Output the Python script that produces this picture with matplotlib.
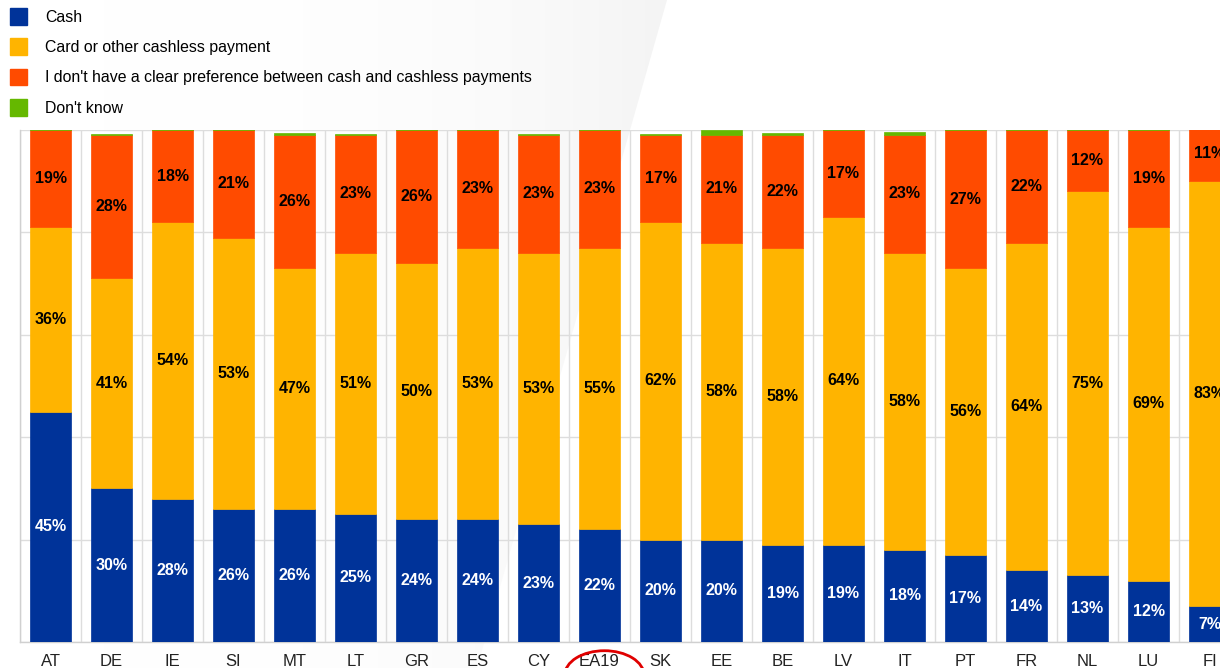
import numpy as np
import matplotlib
matplotlib.use("Agg")
import matplotlib.pyplot as plt
from matplotlib.patches import Patch, Ellipse, Polygon

plt.rcParams['font.family'] = ['Liberation Sans', 'DejaVu Sans']

countries = ["AT", "DE", "IE", "SI", "MT", "LT", "GR", "ES", "CY", "EA19",
             "SK", "EE", "BE", "LV", "IT", "PT", "FR", "NL", "LU", "FI"]
cash = [45, 30, 28, 26, 26, 25, 24, 24, 23, 22, 20, 20, 19, 19, 18, 17, 14, 13, 12, 7]
card = [36, 41, 54, 53, 47, 51, 50, 53, 53, 55, 62, 58, 58, 64, 58, 56, 64, 75, 69, 83]
no_pref = [19, 28, 18, 21, 26, 23, 26, 23, 23, 23, 17, 21, 22, 17, 23, 27, 22, 12, 19, 11]
dont_know = [0.4, 0.2, 0.2, 0.5, 0.4, 0.3, 0.2, 0.7, 0.3, 0.3,
             0.2, 1.0, 0.4, 0.4, 0.6, 0.6, 0.8, 0.2, 0.4, 0.3]

series = [
    ("Cash", cash, "#003399", "white"),
    ("Card or other cashless payment", card, "#FFB400", "black"),
    ("I don't have a clear preference between cash and cashless payments", no_pref, "#FF4B00", "black"),
    ("Don't know", dont_know, "#65B800", None),
]

W, H = 1220, 668
fig = plt.figure(figsize=(W / 100, H / 100), dpi=100)

# faint grey diagonal shading in the background
bg = fig.add_axes([0, 0, 1, 1], zorder=-2)
bg.set_xlim(0, W)
bg.set_ylim(H, 0)
bg.axis("off")
grad = np.tile(np.linspace(0, 1, 400) ** 3, (50, 1))
cmap = matplotlib.colors.LinearSegmentedColormap.from_list("g", ["#ffffff", "#f4f4f4"])
img = bg.imshow(grad, extent=[0, 667, H, 0], cmap=cmap, aspect="auto", zorder=0)
shape = Polygon([(0, 0), (667, 0), (477, H), (0, H)], transform=bg.transData)
img.set_clip_path(shape)

ax = fig.add_axes([20 / W, 26 / H, 1220 / W, 512 / H])
ax.set_facecolor("none")
x = np.arange(len(countries))
bottom = np.zeros(len(countries))
for name, vals, color, tcolor in series:
    vals = np.array(vals, dtype=float)
    ax.bar(x, vals, bottom=bottom, width=0.66, color=color, label=name,
           edgecolor=color, linewidth=0.5, zorder=3)
    if tcolor:
        for xi, b, v in zip(x, bottom, vals):
            ax.text(xi, b + v / 2, f"{int(v)}%", ha="center", va="center",
                    color=tcolor, fontsize=11.5, fontweight="bold", zorder=4)
    bottom += vals

ax.set_xlim(-0.5, len(countries) - 0.5)
ax.set_ylim(0, 100)
ax.set_yticks(np.arange(0, 101, 20))
ax.set_yticklabels([])
ax.set_xticks(x)
ax.set_xticklabels(countries, fontsize=12, color="#222222")
ax.set_xticks(np.arange(-0.5, len(countries), 1), minor=True)
ax.tick_params(axis="both", which="both", length=0)
ax.tick_params(axis="x", pad=9)
ax.grid(True, axis="y", color="#dddddd", linewidth=1, zorder=0)
ax.grid(True, axis="x", which="minor", color="#dddddd", linewidth=1, zorder=0)
ax.grid(False, axis="x", which="major")
for s in ["top", "right"]:
    ax.spines[s].set_visible(False)
for s in ["left", "bottom"]:
    ax.spines[s].set_color("#d0d0d0")
    ax.spines[s].set_linewidth(1)

# highlight the euro area aggregate
ea = countries.index("EA19")
ax.add_patch(Ellipse((ea + 0.08, -6.5), 1.3, 9.6, transform=ax.transData, fill=False,
                     edgecolor="#e00000", linewidth=2, clip_on=False, zorder=5))

handles = [Patch(facecolor=c, edgecolor=c) for _, _, c, _ in series]
fig.legend(handles, [s[0] for s in series], loc="upper left",
           bbox_to_anchor=(10 / W, 1 - 8 / H), frameon=False, fontsize=11.4,
           handlelength=1.1, handleheight=1.25, labelspacing=0.86,
           handletextpad=1.1, borderpad=0, borderaxespad=0)

fig.savefig("out.png", dpi=100)
